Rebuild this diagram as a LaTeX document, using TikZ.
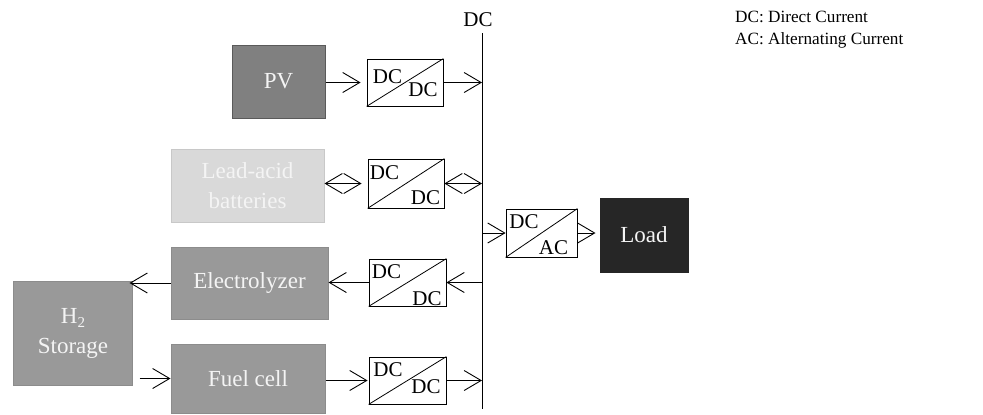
\documentclass[tikz,border=0pt]{standalone}
\usepackage{fontspec}
\setmainfont{Liberation Serif}
\usetikzlibrary{arrows.meta}
\definecolor{pvfill}{HTML}{808080}
\definecolor{pvdraw}{HTML}{5A5A5A}
\definecolor{gfill}{HTML}{999999}
\definecolor{gdraw}{HTML}{8C8C8C}
\definecolor{lfill}{HTML}{D9D9D9}
\definecolor{ldraw}{HTML}{C8C8C8}
\definecolor{loadfill}{HTML}{262626}
\definecolor{boxtext}{HTML}{F4F4F4}
\begin{document}
\begin{tikzpicture}[x=1bp,y=-1bp,
  box/.style={draw, line width=1bp, inner sep=0pt, text=boxtext, align=center,
    font=\fontsize{23bp}{30bp}\selectfont},
  conv/.style={draw=black, line width=0.8bp, fill=white, inner sep=0pt},
  convtxt/.style={inner sep=0pt, font=\fontsize{21bp}{21bp}\selectfont},
  arr/.style={line width=0.9bp, -{Straight Barb[length=17bp,width=20bp,line width=0.9bp]}},
  darr/.style={line width=0.9bp, {Straight Barb[length=17bp,width=20bp,line width=0.9bp]}-{Straight Barb[length=17bp,width=20bp,line width=0.9bp]}},
  legend/.style={inner sep=0pt, anchor=base west, font=\fontsize{17.2bp}{21bp}\selectfont}
]
\useasboundingbox (0,0) rectangle (983,414);

% bus
\coordinate (bt) at (482,33);
\coordinate (bb) at (482,409);
\draw[line width=1bp] (bt) -- (bb);
\node[inner sep=0pt, anchor=base, font=\fontsize{21bp}{21bp}\selectfont] (buslabel) at (478,26) {DC};

% legend
\node[legend] (leg1) at (735,22) {DC: Direct Current};
\node[legend] (leg2) at (735,44) {AC: Alternating Current};

% source / storage boxes
\node[box, fill=pvfill, draw=pvdraw, minimum width=93bp, minimum height=73bp] (PV) at (278.5,81.5) {PV};
\node[box, fill=lfill, draw=ldraw, minimum width=153bp, minimum height=73bp] (LA) at (247.5,185.5) {Lead-acid\\batteries};
\node[box, fill=gfill, draw=gdraw, minimum width=157bp, minimum height=72bp] (EL) at (249.5,283) {Electrolyzer};
\node[box, fill=gfill, draw=gdraw, minimum width=118bp, minimum height=104bp] (H2) at (73,333) {H\raisebox{-0.4ex}{\fontsize{15bp}{15bp}\selectfont 2}\\Storage};
\node[box, fill=gfill, draw=gdraw, minimum width=154bp, minimum height=69bp] (FC) at (248,378.5) {Fuel cell};
\node[box, fill=loadfill, draw=loadfill, minimum width=88bp, minimum height=74bp] (LD) at (644,235) {Load};

% converters
\node[conv, minimum width=76bp, minimum height=47bp] (c1) at (405,82.5) {};
\draw[line width=0.8bp] (c1.south west) -- (c1.north east);
\node[convtxt] at ([shift={(-17.5,-5.5)}]c1.center) {DC};
\node[convtxt] at ([shift={(18,7)}]c1.center) {DC};

\node[conv, minimum width=76bp, minimum height=49bp] (c2) at (406,183.5) {};
\draw[line width=0.8bp] (c2.south west) -- (c2.north east);
\node[convtxt] at ([shift={(-21.5,-11)}]c2.center) {DC};
\node[convtxt] at ([shift={(19.5,14)}]c2.center) {DC};

\node[conv, minimum width=77bp, minimum height=47bp] (c3) at (407.5,282.5) {};
\draw[line width=0.8bp] (c3.south west) -- (c3.north east);
\node[convtxt] at ([shift={(-21,-10.5)}]c3.center) {DC};
\node[convtxt] at ([shift={(19.5,16)}]c3.center) {DC};

\node[conv, minimum width=77bp, minimum height=47bp] (c4) at (407.5,380.5) {};
\draw[line width=0.8bp] (c4.south west) -- (c4.north east);
\node[convtxt] at ([shift={(-19.5,-11)}]c4.center) {DC};
\node[convtxt] at ([shift={(18.5,6.5)}]c4.center) {DC};

\node[conv, minimum width=71bp, minimum height=48bp] (ca) at (541.5,233) {};
\draw[line width=0.8bp] (ca.south west) -- (ca.north east);
\node[convtxt] at ([shift={(-17.5,-11)}]ca.center) {DC};
\node[convtxt] at ([shift={(12,14.5)}]ca.center) {AC};

% connectors
\draw[arr, shorten >=6bp] (PV.east |- c1.west) -- (c1.west);
\draw[arr] (c1.east) -- (bt |- c1.east);

\draw[darr, shorten >=6bp] (LA.east |- c2.west) -- (c2.west);
\draw[darr] (c2.east) -- (bt |- c2.east);

\draw[arr] (bt |- ca.west) -- (ca.west);
\draw[arr, shorten >=4bp] (ca.east) -- (LD.west |- ca.east);

\draw[arr] (bt |- c3.east) -- (c3.east);
\draw[arr] (c3.west) -- (EL.east |- c3.west);
\draw[arr, shorten >=-3bp] (EL.west) -- (H2.east |- EL.west);

\draw[arr, shorten <=7bp] (H2.east |- FC.west) -- (FC.west);
\draw[arr, shorten >=1bp] (FC.east |- c4.west) -- (c4.west);
\draw[arr] (c4.east) -- (bt |- c4.east);
\end{tikzpicture}
\end{document}
